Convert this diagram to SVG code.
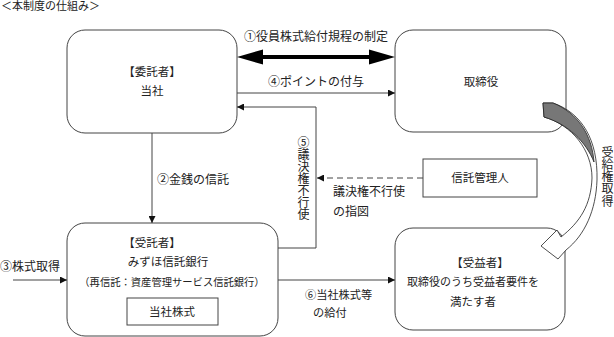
<svg xmlns="http://www.w3.org/2000/svg" width="614" height="337" viewBox="0 0 614 337">
<defs>
<style>
text{font-family:"Liberation Serif","Noto Sans CJK JP",serif;fill:#222;font-size:11.5px}
.c{text-anchor:middle}
.v{writing-mode:vertical-rl;font-size:12px;dominant-baseline:central}
.box{fill:#fff;stroke:#444;stroke-width:1}
.ln{fill:none;stroke:#444;stroke-width:1}
</style>
<marker id="ah" viewBox="0 0 10 10" refX="10" refY="5" markerWidth="7" markerHeight="7" markerUnits="userSpaceOnUse" orient="auto">
<path d="M0,0 L10,5 L0,10 Z" fill="#111"/>
</marker>
</defs>
<rect width="614" height="337" fill="#fff"/>
<text x="1" y="10" style="font-size:11px">＜本制度の仕組み＞</text>

<g id="itakusha">
<rect class="box" x="67" y="30" width="170" height="103" rx="18"/>
<text class="c" x="152" y="76">【委託者】</text>
<text class="c" x="152" y="95">当社</text>
</g>
<g id="torishimariyaku">
<rect class="box" x="395" y="30" width="171" height="102" rx="18"/>
<text class="c" x="481" y="86">取締役</text>
</g>
<g id="shintakukanrinin">
<rect class="box" x="423" y="159" width="114" height="38"/>
<text class="c" x="480" y="182">信託管理人</text>
</g>
<g id="jutakusha">
<rect class="box" x="67" y="223" width="211" height="113" rx="18"/>
<text class="c" x="152" y="247">【受託者】</text>
<text class="c" x="168" y="266">みずほ信託銀行</text>
<text class="c" x="172" y="286" style="font-size:10.3px">（再信託：資産管理サービス信託銀行）</text>
<rect class="box" x="127" y="298" width="91" height="27"/>
<text class="c" x="172" y="316">当社株式</text>
</g>
<g id="jueki">
<rect class="box" x="395" y="228" width="170" height="102" rx="18"/>
<text class="c" x="480" y="267">【受益者】</text>
<text class="c" x="473" y="286" style="font-size:11px">取締役のうち受益者要件を</text>
<text class="c" x="473" y="306">満たす者</text>
</g>

<g id="connectors">
<polygon points="237,57 263,49.5 263,55 369,55 369,49.5 395,57 369,64.5 369,59 263,59 263,64.5" fill="#000"/>
<text class="c" x="316" y="41" style="font-size:12px">①役員株式給付規程の制定</text>
<line class="ln" x1="237" y1="93" x2="395" y2="93" marker-end="url(#ah)"/>
<text x="268" y="86" style="font-size:12px">④ポイントの付与</text>
<polyline class="ln" points="278,248 316,248 316,107 237,107" marker-end="url(#ah)"/>
<text class="v" x="302" y="136">⑤議決権不行使</text>
<line class="ln" x1="423" y1="178" x2="317" y2="178" stroke-dasharray="6,4" marker-end="url(#ah)"/>
<text x="333" y="196" style="font-size:12px">議決権不行使</text>
<text x="333" y="216" style="font-size:12px">の指図</text>
<line class="ln" x1="152" y1="133" x2="152" y2="223" marker-end="url(#ah)"/>
<text x="157" y="184" style="font-size:12px">②金銭の信託</text>
<line class="ln" x1="13" y1="280" x2="67" y2="280" marker-end="url(#ah)"/>
<text x="0" y="271" style="font-size:12px">③株式取得</text>
<line class="ln" x1="278" y1="280" x2="395" y2="280" marker-end="url(#ah)"/>
<text x="305" y="299" style="font-size:11.2px">⑥当社株式等</text>
<text x="313" y="317" style="font-size:11.2px">の給付</text>
<path d="M541,246 L557,230 L561,237 C580,222 591,205 592,178 C592,150 572,125 544,117 L543,103 L553,103 C582,113 598,140 597,180 C596,210 585,235 566,250 L558,259 Z" fill="#fff" stroke="#222" stroke-width="0.8"/>
<path d="M543,103 L553,103 C578,113 592,135 594,162 C586,142 568,124 544,117 Z" fill="#777" stroke="#222" stroke-width="0.8"/>
<text class="v" x="606" y="146" style="letter-spacing:0.3px">受給権取得</text>
</g>
</svg>
